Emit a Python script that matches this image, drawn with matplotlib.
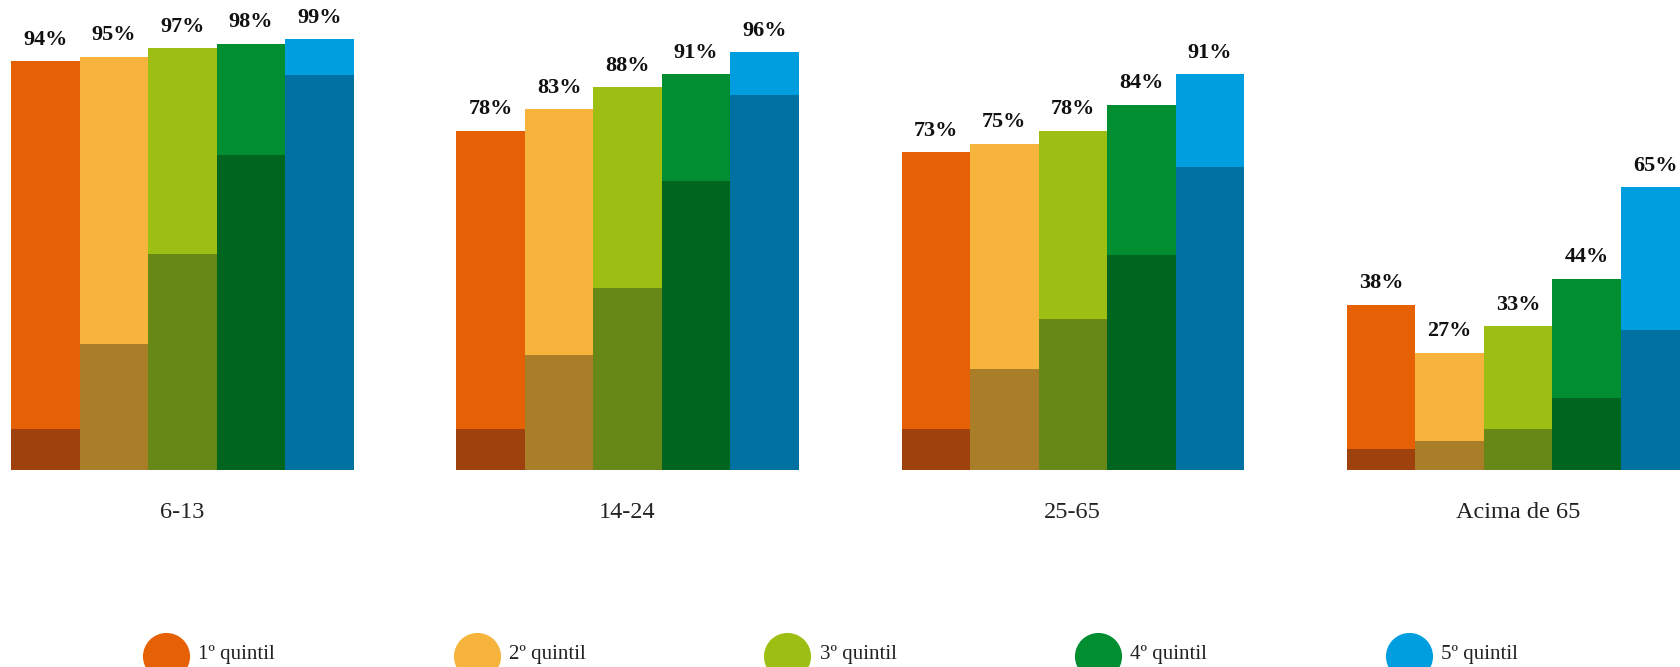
import numpy as np
import matplotlib.pyplot as plt
from matplotlib import rcParams

rcParams['font.family'] = ['Liberation Serif', 'DejaVu Serif']

# Age groups and quintiles
groups = ['6-13', '14-24', '25-65', 'Acima de 65']
quintis = ['1º quintil', '2º quintil', '3º quintil', '4º quintil', '5º quintil']

# total (light part of each bar, labelled) per group, one list per group
total_613 = [94, 95, 97, 98, 99]
total_1424 = [78, 83, 88, 91, 96]
total_2565 = [73, 75, 78, 84, 91]
total_65 = [38, 27, 33, 44, 65]

# inner (dark part of each bar)
inner_613 = [9.4, 28.9, 49.6, 72.3, 90.7]
inner_1424 = [9.4, 26.5, 41.8, 66.4, 86.1]
inner_2565 = [9.4, 23.2, 34.8, 49.5, 69.7]
inner_65 = [4.8, 6.7, 9.4, 16.6, 32.1]

totals = [total_613, total_1424, total_2565, total_65]
inners = [inner_613, inner_1424, inner_2565, inner_65]

light = ['#E66005', '#F6B43C', '#9DBE13', '#008E30', '#009EDE']
dark = ['#9E410C', '#AA7E28', '#678717', '#00661F', '#0071A0']

fig = plt.figure(figsize=(16.8, 6.67), dpi=100)
ax = fig.add_axes([0, 0, 1, 1])

px = 68.5       # pixels per bar
ppy = 4.35      # pixels per percent
gap = 6.5       # distance between groups, in bar widths

for g in range(len(groups)):
    x = g * gap + np.arange(5)
    ax.bar(x, totals[g], width=1.0, color=light, linewidth=0)
    ax.bar(x, inners[g], width=1.0, color=dark, linewidth=0)
    for xi, v in zip(x, totals[g]):
        ax.text(xi, v + 2.6, f'{v}%', ha='center', va='bottom',
                fontsize=16, fontweight='bold', color='#111111')
    ax.text(g * gap + 2, -9.8, groups[g], ha='center', va='center',
            fontsize=17.5, color='#222222')

# legend drawn underneath, same coordinates
leg_y = (470 - 655.5) / ppy
for i, (q, c) in enumerate(zip(quintis, light)):
    lx = (166 + 310.7 * i - 11) / px - 0.5
    ax.scatter(lx, leg_y, s=1150, color=c, linewidths=0, clip_on=True)
    ax.text(lx + 0.47, (470 - 655) / ppy, q, ha='left', va='center',
            fontsize=15, color='#222222')

ax.set_xlim(-0.5 - 11 / px, -0.5 - 11 / px + 1680 / px)
ax.set_ylim(-(667 - 470) / ppy, 470 / ppy)
ax.axis('off')

fig.savefig('out.png', dpi=100)
